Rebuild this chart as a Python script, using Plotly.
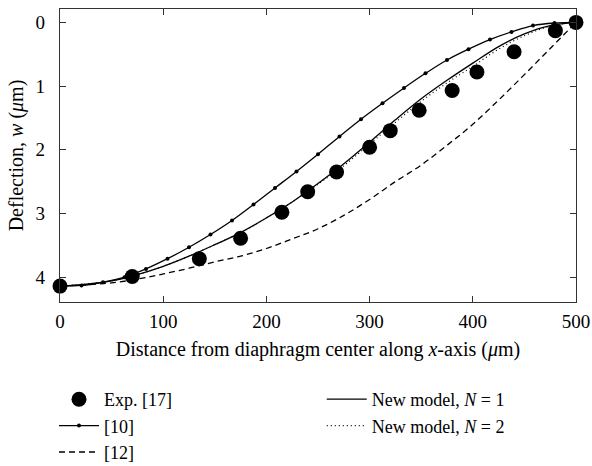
import plotly.graph_objects as go

# Experimental data [17]
exp_x = [0, 70, 135, 175, 215, 240, 268, 300, 320, 348, 380, 404, 440, 480, 500]
exp_w = [4.14, 3.99, 3.71, 3.39, 2.98, 2.66, 2.35, 1.96, 1.70, 1.38, 1.07, 0.78, 0.46, 0.13, 0.0]

# Model [10] (marked every 500/24 um)
ref10_x = [0, 20.83, 41.67, 62.5, 83.33, 104.17, 125, 145.83, 166.67, 187.5, 208.33, 229.17,
           250, 270.83, 291.67, 312.5, 333.33, 354.17, 375, 395.83, 416.67, 437.5, 458.33, 479.17, 500]
ref10_w = [4.14, 4.13, 4.08, 4.00, 3.87, 3.71, 3.53, 3.33, 3.11, 2.86, 2.60, 2.34,
           2.07, 1.79, 1.52, 1.27, 1.03, 0.80, 0.59, 0.42, 0.27, 0.15, 0.05, 0.01, 0.0]

# Model [12]
ref12_x = [0, 25, 50, 75, 100, 125, 150, 175, 200, 225, 250, 275, 300, 325, 350, 375, 400, 425, 450, 475, 500]
ref12_w = [4.14, 4.12, 4.09, 4.03, 3.95, 3.86, 3.76, 3.67, 3.55, 3.40, 3.24, 3.03, 2.78, 2.50, 2.24, 1.93, 1.60, 1.22, 0.82, 0.41, 0.0]

# New model N = 1 and N = 2
new_x = [0, 25, 50, 75, 100, 125, 150, 175, 200, 225, 250, 275, 300, 325, 350, 375, 400, 425, 450, 475, 500]
new1_w = [4.14, 4.11, 4.06, 3.96, 3.83, 3.67, 3.49, 3.30, 3.07, 2.82, 2.53, 2.22, 1.88, 1.53, 1.20, 0.91, 0.64, 0.38, 0.18, 0.05, 0.0]
new2_w = [4.14, 4.11, 4.06, 3.96, 3.83, 3.67, 3.49, 3.30, 3.07, 2.82, 2.54, 2.25, 1.91, 1.57, 1.24, 0.95, 0.69, 0.42, 0.21, 0.06, 0.0]

x_ticks = [0, 100, 200, 300, 400, 500]
y_ticks = [0, 1, 2, 3, 4]

FONT = "Liberation Serif"
lw = 1.3

fig = go.Figure()
fig.add_trace(go.Scatter(x=new_x, y=new1_w, mode="lines", name="New model, <i>N</i> = 1",
                         line=dict(color="black", width=lw, shape="spline"),
                         legend="legend2", legendgroup="n1"))
fig.add_trace(go.Scatter(x=new_x, y=new2_w, mode="lines", name="New model, <i>N</i> = 2",
                         line=dict(color="black", width=1.2, dash="1px,3px", shape="spline"),
                         legend="legend2", legendgroup="n2"))
fig.add_trace(go.Scatter(x=ref12_x, y=ref12_w, mode="lines", name="[12]",
                         line=dict(color="black", width=lw, dash="6px,4px", shape="spline"),
                         legendgroup="r12", legendrank=3))
fig.add_trace(go.Scatter(x=ref10_x, y=ref10_w, mode="lines+markers", name="[10]",
                         line=dict(color="black", width=lw, shape="spline"),
                         marker=dict(color="black", size=4),
                         legendgroup="r10", legendrank=2))
fig.add_trace(go.Scatter(x=exp_x, y=exp_w, mode="markers", name="Exp. [17]",
                         marker=dict(color="black", size=15),
                         cliponaxis=False, legendgroup="exp", legendrank=1))

axis_common = dict(showline=True, linecolor="#333", linewidth=1.3, mirror="ticks",
                   ticks="inside", ticklen=6, tickcolor="#333", tickwidth=1,
                   showgrid=False, zeroline=False, automargin=False,
                   tickfont=dict(family=FONT, size=19, color="black"))

fig.update_xaxes(range=[0, 500], tickvals=x_ticks, ticklabelstandoff=2,
                 title=dict(text="Distance from diaphragm center along <i>x</i>-axis (<i>μ</i>m)",
                            font=dict(family=FONT, size=20, color="black"), standoff=11),
                 **axis_common)
fig.update_yaxes(range=[4.39, -0.21], tickvals=y_ticks, ticklabelstandoff=10,
                 title=dict(text="Deflection, <i>w</i> (<i>μ</i>m)",
                            font=dict(family=FONT, size=20, color="black"), standoff=6),
                 **axis_common)

legend_common = dict(font=dict(family=FONT, size=18, color="black"),
                     bgcolor="rgba(0,0,0,0)",
                     yref="container", yanchor="top", xanchor="left", itemwidth=40,
                     traceorder="normal")

fig.update_layout(
    width=592, height=466,
    margin=dict(l=60, r=16, t=9, b=164, autoexpand=False),
    plot_bgcolor="white", paper_bgcolor="white",
    font=dict(family=FONT, size=18, color="black"),
    showlegend=True,
    legend=dict(x=(54 - 60) / 516.5, y=1 - 381 / 466, **legend_common),
    legend2=dict(x=(322 - 60) / 516.5, y=1 - 381 / 466, **legend_common),
)

fig.write_html("out.html")
